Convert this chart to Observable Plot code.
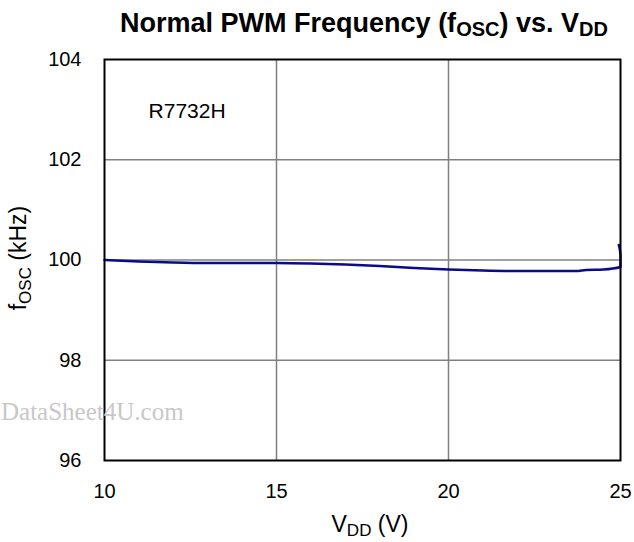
<!DOCTYPE html>
<html>
<head>
<meta charset="utf-8">
<script src="https://cdn.jsdelivr.net/npm/d3@7"></script>
<script src="https://cdn.jsdelivr.net/npm/@observablehq/plot@0.6"></script>
<style>
  html, body { margin: 0; padding: 0; background: #fff; }
  #wrap { position: relative; width: 634px; height: 542px; overflow: hidden; }
</style>
</head>
<body>
<div id="wrap"><div id="chart"></div></div>
<script>
const vdd = [10, 11, 12, 13, 14, 15, 16, 17, 18, 19, 20, 21, 22, 23, 23.7, 24, 24.5, 25, 25, 24.95];
const fosc = [100.0, 99.97, 99.95, 99.94, 99.94, 99.94, 99.93, 99.91, 99.88, 99.84, 99.81, 99.79, 99.78, 99.78, 99.78, 99.8, 99.81, 99.86, 100.1, 100.3];
const xTicks = [10, 15, 20, 25];
const yTicks = [96, 98, 100, 102, 104];
const label = "R7732H";

const data = vdd.map((v, i) => ({v, f: fosc[i]}));

const plot = Plot.plot({
  width: 634,
  height: 542,
  marginTop: 59,
  marginLeft: 104,
  marginRight: 14,
  marginBottom: 82,
  style: {fontFamily: "Liberation Sans, Arial, sans-serif", fontSize: "20px", color: "#000", background: "#fff", overflow: "visible"},
  x: {domain: [10, 25], ticks: xTicks, tickSize: 0, tickPadding: 23, label: null},
  y: {domain: [96, 104], ticks: yTicks, tickSize: 0, tickPadding: 23, label: null},
  marks: [
    Plot.gridX(xTicks.slice(1, -1), {stroke: "#808080", strokeOpacity: 1, strokeWidth: 1.5}),
    Plot.gridY(yTicks.slice(1, -1), {stroke: "#808080", strokeOpacity: 1, strokeWidth: 1.5}),
    Plot.line(data, {x: "v", y: "f", stroke: "#0a0a8c", strokeWidth: 2.5, curve: "monotone-x"}),
    Plot.frame({stroke: "#000", strokeWidth: 2}),
    Plot.text([label], {x: 11.28, y: 102.97, text: d => d, textAnchor: "start", fontSize: 21})
  ]
});
document.getElementById("chart").appendChild(plot);

const svg = d3.select(plot);
const font = "Liberation Sans, Arial, sans-serif";
// Watermark
svg.append("text").attr("x", 1).attr("y", 420).attr("text-anchor", "start")
  .attr("font-family", "Liberation Serif, Times New Roman, serif")
  .attr("font-size", 25).attr("fill", "#c8c8c8").text("DataSheet4U.com");
// Title
const t = svg.append("text").attr("x", 364).attr("y", 32).attr("text-anchor", "middle")
  .attr("font-family", font).attr("font-size", 27).attr("font-weight", "bold").attr("fill", "#000");
t.append("tspan").text("Normal PWM Frequency (f");
t.append("tspan").attr("font-size", 20).attr("dy", 4).text("OSC");
t.append("tspan").attr("dy", -4).text(") vs. V");
t.append("tspan").attr("font-size", 20).attr("dy", 4).text("DD");
// X label
const xl = svg.append("text").attr("x", 370).attr("y", 532).attr("text-anchor", "middle")
  .attr("font-family", font).attr("font-size", 23).attr("fill", "#000");
xl.append("tspan").text("V");
xl.append("tspan").attr("font-size", 17).attr("dy", 4).text("DD");
xl.append("tspan").attr("dy", -4).text(" (V)");
// Y label
const yl = svg.append("text").attr("transform", "translate(26,258) rotate(-90)").attr("text-anchor", "middle")
  .attr("font-family", font).attr("font-size", 23).attr("fill", "#000");
yl.append("tspan").text("f");
yl.append("tspan").attr("font-size", 17).attr("dy", 5).text("OSC");
yl.append("tspan").attr("dy", -5).text(" (kHz)");
</script>
</body>
</html>
